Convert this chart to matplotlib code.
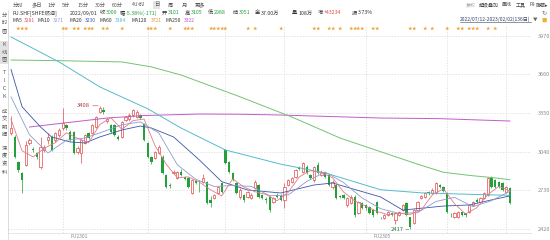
import matplotlib
matplotlib.use('Agg')
import matplotlib.pyplot as plt
import numpy as np
from matplotlib.lines import Line2D
from matplotlib.transforms import blended_transform_factory

plt.rcParams['font.family'] = ['Noto Sans CJK SC', 'DejaVu Sans']

# daily bars, 2022/07/12 - 2023/02/02 (136 trading days)
opens = [3190, 3158, 2957, 2869, 2933, 3110, 3065, 3030, 2917, 3054, 3134, 3158, 3134, 3174,
         3230, 3254, 3198, 3198, 3038, 3030, 3110, 3190, 3190, 3238, 3358, 3374, 3286, 3254,
         3254, 3158, 3158, 3294, 3300, 3334, 3318, 3334, 3262,
         3110, 2997, 2989, 3030, 3000, 2853, 2775, 2869, 2829, 2877, 2837, 2829, 2709, 2805,
         2800, 2797, 2797, 2653, 2669, 2709, 2789,
         3054, 2957, 2869, 2789, 2677, 2693, 2677, 2669, 2749, 2773, 2693, 2657, 2677, 2637,
         2693, 2685,
         2653, 2773, 2797, 2837, 2912, 2877, 2917, 2853, 2813, 2933, 2853, 2869, 2853, 2757,
         2773, 2685, 2690, 2613, 2629, 2677, 2548, 2629,
         2613, 2596, 2572, 2637, 2512, 2508, 2532, 2548, 2492, 2532, 2572, 2629, 2516, 2468,
         2572, 2669, 2677, 2717, 2709, 2709, 2773, 2757,
         2709, 2535, 2516, 2516, 2556, 2545, 2556, 2613, 2653, 2637, 2669, 2693, 2829, 2813,
         2797, 2789,
         2717, 2749]
highs = [3330, 3170, 2965, 2875, 3125, 3150, 3080, 3040, 3160, 3090, 3190, 3170, 3200, 3230,
         3390, 3265, 3210, 3205, 3085, 3140, 3185, 3200, 3260, 3330, 3408, 3395, 3310, 3260,
         3262, 3170, 3290, 3330, 3350, 3385, 3375, 3345, 3270,
         3115, 3005, 3045, 3090, 3010, 2860, 2785, 2895, 2885, 2900, 2845, 2835, 2820, 2815,
         2815, 2860, 2805, 2685, 2700, 2765, 2800,
         3065, 2965, 2875, 2795, 2745, 2700, 2725, 2705, 2810, 2780, 2700, 2680, 2685, 2680,
         2705, 2700,
         2790, 2825, 2840, 2905, 2925, 2960, 2930, 2860, 2925, 2957, 2890, 2880, 2860, 2810,
         2780, 2690, 2700, 2680, 2690, 2690, 2645, 2640,
         2620, 2605, 2580, 2645, 2520, 2540, 2565, 2555, 2555, 2565, 2620, 2640, 2520, 2580,
         2645, 2695, 2720, 2725, 2745, 2800, 2780, 2765,
         2715, 2545, 2555, 2565, 2560, 2550, 2620, 2645, 2665, 2680, 2715, 2840, 2845, 2825,
         2805, 2795,
         2765, 2755]
lows = [3175, 2990, 2880, 2709, 2925, 3095, 3040, 2985, 2905, 3040, 3100, 3045, 3120, 3160,
        3210, 3215, 3125, 3020, 3025, 2949, 3100, 3140, 3180, 3230, 3350, 3340, 3270, 3190,
        3165, 3130, 3150, 3285, 3290, 3320, 3310, 3300, 3125,
        2990, 2945, 2980, 3020, 2860, 2745, 2750, 2860, 2820, 2845, 2815, 2750, 2700, 2780,
        2720, 2790, 2620, 2596, 2660, 2700, 2710,
        2940, 2870, 2805, 2700, 2660, 2640, 2670, 2660, 2740, 2670, 2660, 2625, 2560, 2625,
        2670, 2645,
        2590, 2765, 2785, 2830, 2890, 2870, 2860, 2820, 2800, 2860, 2845, 2830, 2765, 2740,
        2660, 2665, 2660, 2600, 2620, 2520, 2540, 2580,
        2575, 2540, 2520, 2540, 2500, 2500, 2525, 2525, 2460, 2525, 2565, 2525, 2417, 2460,
        2565, 2660, 2670, 2695, 2700, 2700, 2745, 2715,
        2545, 2515, 2510, 2505, 2525, 2520, 2550, 2605, 2625, 2630, 2660, 2685, 2750, 2750,
        2745, 2725,
        2710, 2620]
closes = [3230, 2997, 2893, 2813, 3094, 3134, 3055, 2997, 3078, 3078, 3158, 3054, 3190, 3214,
          3270, 3230, 3134, 3030, 3070, 3134, 3174, 3150, 3254, 3318, 3390, 3358, 3302, 3198,
          3174, 3142, 3278, 3318, 3334, 3374, 3358, 3310, 3134,
          2997, 2957, 3038, 3078, 2869, 2757, 2765, 2880, 2877, 2853, 2825, 2757, 2813, 2790,
          2795, 2829, 2629, 2629, 2693, 2757, 2717,
          2949, 2877, 2813, 2709, 2733, 2653, 2717, 2693, 2797, 2677, 2669, 2650, 2572, 2669,
          2677, 2653,
          2757, 2813, 2829, 2893, 2900, 2949, 2869, 2829, 2917, 2869, 2877, 2837, 2773, 2797,
          2669, 2677, 2670, 2669, 2677, 2532, 2637, 2588,
          2588, 2548, 2532, 2548, 2508, 2532, 2556, 2532, 2548, 2556, 2613, 2532, 2436, 2572,
          2637, 2685, 2709, 2705, 2733, 2789, 2757, 2725,
          2556, 2530, 2548, 2556, 2532, 2532, 2613, 2637, 2637, 2669, 2709, 2829, 2757, 2757,
          2757, 2733,
          2757, 2629]

# moving averages (bar index, value)
ma5_x = [0, 3, 6, 9, 12, 15, 18, 21, 24, 27, 30, 33, 36, 39, 42, 45, 48, 51, 54, 57, 60, 63,
         66, 69, 72, 75, 78, 81, 84, 87, 90, 93, 96, 99, 102, 105, 108, 111, 114, 117, 120,
         123, 126, 129, 132, 135]
ma5_y = [3300, 3047, 2998, 3068, 3112, 3192, 3147, 3112, 3257, 3313, 3219, 3289, 3302, 3087,
         2940, 2830, 2838, 2796, 2734, 2685, 2823, 2757, 2719, 2697, 2647, 2714, 2838, 2888,
         2872, 2831, 2717, 2645, 2604, 2561, 2535, 2545, 2537, 2572, 2694, 2742, 2623, 2540,
         2590, 2696, 2762, 2727]
ma10_x = [0, 5, 10, 15, 20, 25, 30, 35, 40, 45, 50, 55, 60, 65, 70, 75, 80, 85, 90, 95, 100,
          105, 110, 115, 120, 125, 130, 135]
ma10_y = [3480, 3176, 3030, 3132, 3150, 3201, 3256, 3279, 3190, 2935, 2819, 2761, 2769, 2762,
          2687, 2693, 2801, 2877, 2792, 2669, 2583, 2545, 2551, 2641, 2674, 2599, 2647, 2723]
ma20_x = [0, 3, 8, 11, 16, 20, 24, 30, 35, 38, 44, 51, 57, 64, 73, 82, 87, 100, 106, 117, 124,
          131, 135]
ma20_y = [3700, 3400, 3238, 3158, 3118, 3110, 3158, 3214, 3246, 3230, 3158, 2973, 2800, 2733,
          2709, 2773, 2789, 2677, 2572, 2604, 2613, 2660, 2685]
ma60_x = [0, 13, 24, 37, 46, 58, 73, 85, 100, 111, 122, 135]
ma60_y = [3960, 3760, 3560, 3384, 3230, 3054, 2940, 2870, 2735, 2710, 2700, 2690]
ma120_x = [0, 13, 30, 38, 46, 62, 76, 89, 95, 100, 105, 110, 117, 124, 131, 135]
ma120_y = [3775, 3770, 3760, 3720, 3655, 3480, 3318, 3150, 3090, 3040, 2990, 2940, 2875, 2850,
           2830, 2815]
ma250_x = [5, 26, 36, 51, 63, 73, 100, 116, 135]
ma250_y = [3238, 3310, 3330, 3342, 3340, 3334, 3310, 3305, 3286]

price_grid = [2420, 2730, 3040, 3350, 3660, 3970]
month_starts = [14, 37, 58, 74, 96, 118, 134]
contract_marks = [(14, 'FU2301'), (96, 'FU2305')]
event_bars = [2, 3, 4, 14, 15, 17, 18, 20, 21, 22, 25, 26, 30, 37, 38, 39, 43, 47, 48, 49,
              54, 55, 56, 57, 58, 64, 66, 73, 82, 83, 86, 87, 89, 92, 93, 94, 95, 98, 99,
              108, 109, 112, 114, 118, 121, 122, 124, 125, 126, 129, 131]

RED = '#e24a4a'
GREEN = '#23a03a'
W, H = 550, 240


def fx(px):
    return px / W


def fy(py):
    return 1 - py / H


fig = plt.figure(figsize=(5.5, 2.4), dpi=100)
ax = fig.add_axes([fx(8), fy(233), fx(531) - fx(8), fy(26) - fy(233)])

o = np.array(opens)
h = np.array(highs)
l = np.array(lows)
c = np.array(closes)
idx = np.arange(len(c))
up = c >= o

for g in price_grid:
    ax.axhline(g, color='#d9d9d9', lw=0.5, ls=(0, (2, 2)), zorder=0)
for m in month_starts:
    ax.axvline(m, color='#d9d9d9', lw=0.5, ls=(0, (2, 2)), zorder=0)

cols = np.where(up, RED, GREEN)
ax.vlines(idx, l, h, colors=cols, lw=0.5, zorder=2)
body_lo = np.minimum(o, c)
body_h = np.maximum(np.abs(c - o), 3)
ax.bar(idx[up], body_h[up], bottom=body_lo[up], width=0.62, facecolor='white',
       edgecolor=RED, lw=0.5, zorder=3)
ax.bar(idx[~up], body_h[~up], bottom=body_lo[~up], width=0.62, color=GREEN, lw=0, zorder=3)

ax.plot(ma250_x, ma250_y, color='#c25cc8', lw=0.7, zorder=4)
ax.plot(ma120_x, ma120_y, color='#74c274', lw=0.7, zorder=4)
ax.plot(ma60_x, ma60_y, color='#55bccc', lw=0.7, zorder=4)
ax.plot(ma20_x, ma20_y, color='#3a56a6', lw=0.6, zorder=4)
ax.plot(ma10_x, ma10_y, color='#8e9ccf', lw=0.6, zorder=4)
ax.plot(ma5_x, ma5_y, color='#e07c8c', lw=0.6, zorder=4)

i_hi = int(np.argmax(h))
i_lo = int(np.argmin(l))
ax.annotate(str(h[i_hi]), xy=(i_hi, h[i_hi]), xytext=(-7, 0), textcoords='offset points',
            ha='right', va='center', fontsize=4.2, color='#b83a3a',
            arrowprops=dict(arrowstyle='-', color='#b83a3a', lw=0.4, shrinkA=0, shrinkB=1))
ax.annotate(str(l[i_lo]), xy=(i_lo, l[i_lo]), xytext=(-5, 0), textcoords='offset points',
            ha='right', va='center', fontsize=4.2, color='#2a7a3a',
            arrowprops=dict(arrowstyle='-', color='#2a7a3a', lw=0.4, shrinkA=0, shrinkB=1))

tr = blended_transform_factory(ax.transData, ax.transAxes)
for e in event_bars:
    ax.text(e, 0.99, '★', transform=tr, ha='center', va='center', fontsize=3.2,
            color='#f2a23a')

# candle k sits at 11 + 3.69*k px
ax.set_xlim(-0.813, 140.7)
ax.set_ylim(2388, 4048)
ax.set_xticks([])
ax.yaxis.tick_right()
ax.set_yticks(price_grid)
ax.tick_params(axis='y', length=0, pad=5, labelsize=4, labelcolor='#8a8a8a')
for s in ['top', 'right']:
    ax.spines[s].set_visible(False)
ax.spines['left'].set_color('#dcdcdc')
ax.spines['left'].set_linewidth(0.6)
ax.spines['bottom'].set_color('#e2e2e2')
ax.spines['bottom'].set_linewidth(0.6)

for m, name in contract_marks:
    ax.text(m + 2, -0.018, name, transform=tr, ha='left', va='center', fontsize=3.6,
            color='#8a8a8a')

# toolbar row
small = 3.8
tabs = [('分时', 13), ('多日', 32), ('1分', 47), ('5分', 62), ('15分', 77), ('30分', 95),
        ('60分', 112), ('4小时', 132), ('日', 154), ('周', 168), ('月', 182), ('更多', 195)]
for t, px in tabs:
    kw = {}
    if t == '日':
        kw['bbox'] = dict(facecolor='#e4e4e4', edgecolor='none', pad=0.8)
    fig.text(fx(px), fy(5), t, fontsize=small, color='#555555', va='center', ha='left', **kw)
tools = [('复权', 466, '#aaaaaa'), ('超级叠加', 479, '#444444'), ('画线', 502, '#444444'),
         ('工具', 516, '#444444'), ('F9', 529, '#444444'), ('隐藏▸', 536, '#444444')]
for t, px, col in tools:
    fig.text(fx(px), fy(5), t, fontsize=3.6, color=col, va='center', ha='left')
fig.text(fx(542), fy(12), '↻', fontsize=4.5, color='#777777', va='center', ha='left')

# quote row
dark = '#333333'
quote = [('FU.SHF[SHFE燃油]', 12, dark), ('2022/09/01', 70, dark),
         ('收', 100, dark), ('3009', 106, GREEN), ('幅', 120, dark), ('-5.38%(-171)', 126, GREEN),
         ('开', 162, dark), ('3101', 168, GREEN), ('高', 185, dark), ('3105', 191, GREEN),
         ('低', 208, dark), ('2988', 214, GREEN), ('结', 233, dark), ('3051', 239, GREEN),
         ('金', 255, dark), ('37.00万', 261, dark), ('量', 292, dark), ('108万', 298, dark),
         ('增', 318, dark), ('+43234', 324, RED), ('振', 352, dark), ('3.73%', 358, dark)]
for t, px, col in quote:
    fig.text(fx(px), fy(13), t, fontsize=small, color=col, va='center', ha='left')

ma_row = [('MA5', 12, dark), ('3281', 24, '#e05a5a'), ('MA10', 38, dark), ('3271', 53, '#8e9ccf'),
          ('MA20', 70, dark), ('3230', 85, '#3a56a6'), ('MA60', 100, dark), ('3384', 115, '#55bccc'),
          ('MA120', 132, dark), ('3721', 151, '#e0962e'), ('MA250', 165, dark),
          ('3322', 184, '#c25cc8')]
for t, px, col in ma_row:
    fig.text(fx(px), fy(20), t, fontsize=3.6, color=col, va='center', ha='left')

fig.text(fx(460), fy(19), '2022/07/12-2023/02/02(136日)', fontsize=3.6, color='#334466',
         va='center', ha='left')
fig.add_artist(Line2D([fx(460), fx(531)], [fy(22), fy(22)], color='#334466', lw=0.4))
fig.text(fx(533), fy(19), '▼', fontsize=3.3, color='#666666', va='center', ha='left')
fig.text(fx(541), fy(20), '■', fontsize=3.8, color='#f0b030', va='center', ha='left')

# left side tabs
fig.patches.append(plt.Rectangle((0, fy(64)), fx(8), fy(41) - fy(64), transform=fig.transFigure,
                                 facecolor='#e2e2e2', edgecolor='none'))
fig.add_artist(Line2D([fx(8), fx(8)], [fy(10), 0], color='#dcdcdc', lw=0.6))
side = [('分', 15), ('时', 23), ('图', 31), ('K', 45), ('线', 52), ('图', 59),
        ('T', 73), ('I', 81), ('C', 89), ('K', 97), ('成', 111), ('交', 119), ('明', 127),
        ('细', 135), ('深', 148), ('度', 156), ('资', 164), ('料', 172)]
for t, py in side:
    fig.text(fx(4), fy(py), t, fontsize=3.8, color='#555555', va='center', ha='center')

plt.savefig('out.png', dpi=100)
